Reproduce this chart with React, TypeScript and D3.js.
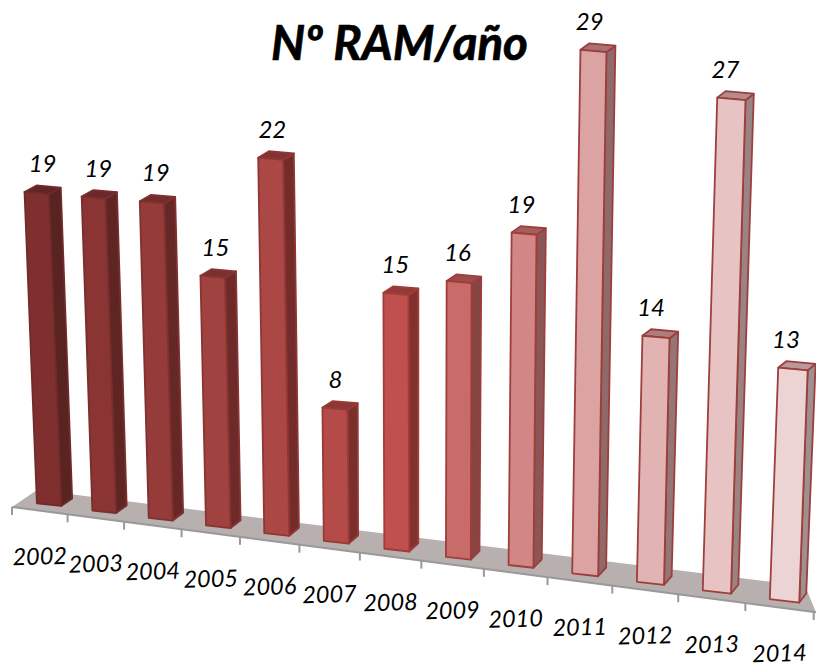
import React from "react";
import * as d3 from "d3";

const years = ["2002","2003","2004","2005","2006","2007","2008","2009","2010","2011","2012","2013","2014"];
const counts = [19,19,19,15,22,8,15,16,19,29,14,27,13];
const title = "Nº RAM/año";

const font = "Lato, Carlito, 'Open Sans', sans-serif";

// perspective mapping of the category axis on the floor's front edge
const catPx = (t: number) => 55.15 * t / (1 - 0.00813 * t);
const X = (t: number) => 12 + catPx(t);
const frontY = d3.scaleLinear().domain([12, 814]).range([507, 612]);

const idx = d3.scaleLinear().domain([0, 12]);
const leftFrac = d3.scaleLinear().domain([0, 4, 8, 12]).range([0.45, 0.41, 0.39, 0.36]);
const rightFrac = d3.scaleLinear().domain([0, 1, 4, 8, 12]).range([0.885, 0.857, 0.83, 0.78, 0.79]);
const unitPx = idx.copy().range([15.7, 17.3]);
const depthXBase = idx.copy().range([11, 7]);
const depthYBase = idx.copy().range([-7.5, -9]);
const depthXTop = idx.copy().range([12, 8]);
const lean = d3.scaleLinear().domain([420, 1420]).range([0, 0.104]);
const labelShift = idx.copy().range([6, -7]);

const frontColor = d3.scaleLinear<string>()
  .domain([0, 3, 6, 9, 12])
  .range(["#7f2f2e", "#a04240", "#c0504d", "#dba3a2", "#edd4d4"])
  .interpolate(d3.interpolateRgb);
const sideColor = d3.scaleLinear<string>()
  .domain([0, 6, 9, 12])
  .range(["#582321", "#82312f", "#8f6a69", "#a08f8f"])
  .interpolate(d3.interpolateRgb);
const topColor = d3.scaleLinear<string>()
  .domain([0, 6, 9, 12])
  .range(["#5f2625", "#953a38", "#a87070", "#b89898"])
  .interpolate(d3.interpolateRgb);
const edgeColor = d3.scaleLinear<string>()
  .domain([0, 6, 12])
  .range(["#712b2a", "#a03d3a", "#9c3f3d"])
  .interpolate(d3.interpolateRgb);

const path = (pts: [number, number][]) => d3.line()(pts)! + "Z";

function bar(i: number, v: number) {
  const xl = X(i + leftFrac(i));
  const xr = X(i + rightFrac(i));
  const yl = frontY(xl) - 7;
  const yr = frontY(xr) - 7.5;
  const h = unitPx(i) * v / (1 - 0.0022 * v);
  const tl: [number, number] = [xl + lean(xl) * h, yl - h];
  const tr: [number, number] = [xr + lean(xl) * h, tl[1] + (yr - yl) * 0.8];
  const dxb = depthXBase(i), dyb = depthYBase(i), dxt = depthXTop(i), dyt = -6.5;
  return {
    front: path([tl, tr, [xr, yr], [xl, yl]]),
    side: path([tr, [tr[0] + dxt, tr[1] + dyt], [xr + dxb, yr + dyb], [xr, yr]]),
    top: path([tl, tr, [tr[0] + dxt, tr[1] + dyt], [tl[0] + dxt, tl[1] + dyt]]),
    labelX: (tl[0] + tr[0]) / 2 + labelShift(i),
    labelY: tl[1] - 29.5,
  };
}

export default function App() {
  const floor = path([[12, 507], [37, 490], [805, 586], [816, 612.3]]);
  const ticks = d3.range(years.length + 1);
  return (
    <svg width={816} height={664} style={{ position: "absolute", left: 0, top: 0, background: "#fff" }} fontFamily={font}>
      <path d={floor} fill="#b8afaf" />
      <line x1={12} y1={507} x2={816} y2={612.3} stroke="#9a9898" strokeWidth={2} />
      {ticks.map((i) => {
        const x = Math.min(X(i), 814);
        return <line key={i} x1={x} x2={x} y1={frontY(x)} y2={frontY(x) + 8} stroke="#9a9898" strokeWidth={2} />;
      })}
      {years.map((y, i) => {
        const x = X(i + 0.5);
        return (
          <text key={y} x={x} y={frontY(x) + 45} textAnchor="middle" dominantBaseline="central"
            fontSize={23.5} fontStyle="italic" fill="#000" transform={`rotate(-1.5 ${x} ${frontY(x) + 45})`}>{y}</text>
        );
      })}
      {counts.map((v, i) => {
        const b = bar(i, v);
        return (
          <g key={years[i]} stroke={edgeColor(i)} strokeWidth={1.8} strokeLinejoin="round">
            <path d={b.side} fill={sideColor(i)} />
            <path d={b.top} fill={topColor(i)} />
            <path d={b.front} fill={frontColor(i)} />
            <text x={b.labelX} y={b.labelY} textAnchor="middle" dominantBaseline="central" stroke="none"
              fontSize={24} fontStyle="italic" fill="#000">{v}</text>
          </g>
        );
      })}
      <text x={399.5} y={41} textAnchor="middle" dominantBaseline="central" fontSize={47.5} fontWeight={700}
        fontStyle="italic" fill="#000" stroke="#000" strokeWidth={0.7}>{title}</text>
    </svg>
  );
}
